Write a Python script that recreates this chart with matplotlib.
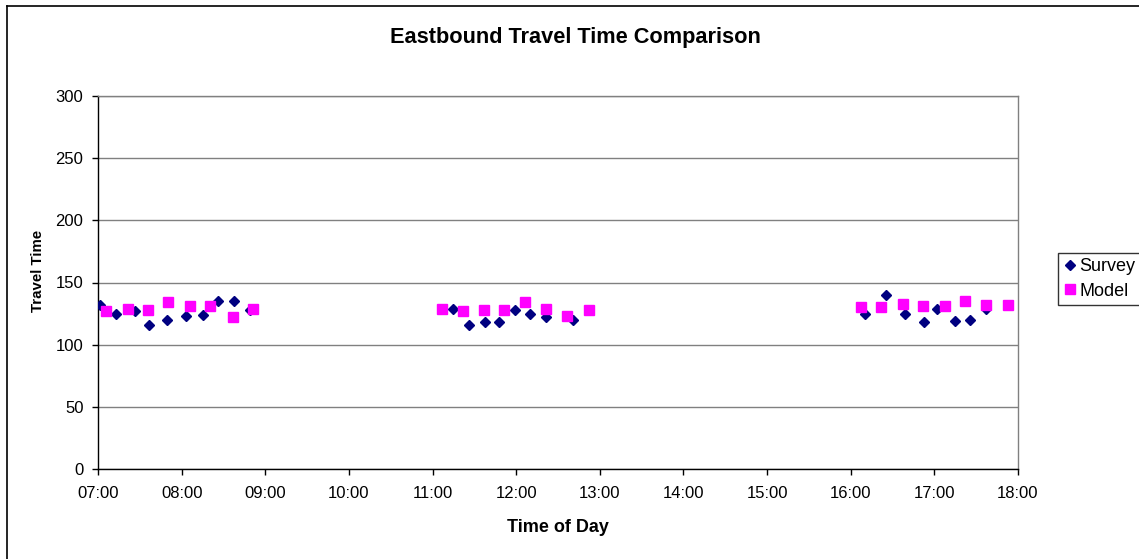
"""Eastbound travel time comparison: survey vs model by time of day."""

import matplotlib

matplotlib.use("Agg")

import matplotlib.pyplot as plt
from matplotlib.lines import Line2D
from matplotlib.ticker import FuncFormatter, MultipleLocator

plt.rcParams["font.family"] = ["Liberation Sans", "DejaVu Sans"]

# decimal hours of day, travel time values
survey_hours = [
    7.02, 7.22, 7.44, 7.61, 7.83, 8.05, 8.25, 8.43, 8.63, 8.82,
    11.25, 11.44, 11.63, 11.79, 11.98, 12.17, 12.36, 12.68,
    16.17, 16.42, 16.65, 16.88, 17.03, 17.25, 17.43, 17.62,
]
survey_times = [
    132, 125, 127, 116, 120, 123, 124, 135, 135, 128,
    129, 116, 118, 118, 128, 125, 122, 120,
    125, 140, 125, 118, 129, 119, 120, 129,
]

model_hours = [
    7.09, 7.36, 7.60, 7.84, 8.10, 8.34, 8.61, 8.85,
    11.11, 11.36, 11.61, 11.86, 12.11, 12.36, 12.61, 12.87,
    16.12, 16.36, 16.62, 16.87, 17.13, 17.37, 17.62, 17.88,
]
model_times = [
    127, 129, 128, 134, 131, 131, 122, 129,
    129, 127, 128, 128, 134, 129, 123, 128,
    130, 130, 133, 131, 131, 135, 132, 132,
]

W, H = 1139, 559


def _hhmm(x, _pos):
    h = int(round(x * 60)) // 60
    m = int(round(x * 60)) % 60
    return f"{h:02d}:{m:02d}"


def main():
    fig = plt.figure(figsize=(W / 100, H / 100), dpi=100)
    ax = fig.add_axes([98 / W, 1 - 469 / H, 920 / W, 373 / H])

    ax.plot(survey_hours, survey_times, linestyle="none", marker="D",
            markersize=5.3, color="#000080", label="Survey", zorder=3)
    ax.plot(model_hours, model_times, linestyle="none", marker="s",
            markersize=7, color="#ff00ff", label="Model", zorder=3)

    ax.set_xlim(7, 18)
    ax.set_ylim(0, 300)
    ax.xaxis.set_major_locator(MultipleLocator(1))
    ax.xaxis.set_major_formatter(FuncFormatter(_hhmm))
    ax.yaxis.set_major_locator(MultipleLocator(50))
    ax.grid(axis="y", color="#808080", linewidth=1)
    ax.set_axisbelow(True)

    for side in ("top", "right"):
        ax.spines[side].set_color("#808080")
    for side in ("left", "bottom"):
        ax.spines[side].set_color("black")
    for sp in ax.spines.values():
        sp.set_linewidth(1)

    ax.tick_params(axis="x", direction="out", length=4, width=1, pad=8,
                   labelsize=12)
    ax.tick_params(axis="y", direction="out", length=4.5, width=1, pad=6,
                   labelsize=12)

    ax.set_xlabel("Time of Day", fontsize=13, fontweight="bold")
    ax.xaxis.set_label_coords(0.5, (469 - 519) / 373)
    ax.set_ylabel("Travel Time", fontsize=10.8, fontweight="bold")
    ax.yaxis.set_label_coords((45 - 98) / 920, (469 - 271) / 373)

    fig.text(575 / W, 1 - 38 / H, "Eastbound Travel Time Comparison",
             ha="center", va="center", fontsize=15.7, fontweight="bold")

    leg = ax.legend(loc="upper left", bbox_to_anchor=(1058 / W, 1 - 253 / H),
                    bbox_transform=fig.transFigure, fontsize=13,
                    frameon=True, fancybox=False, edgecolor="black",
                    handlelength=0.7, handletextpad=0.2, borderpad=0.3,
                    labelspacing=0.4, borderaxespad=0)
    leg.get_frame().set_linewidth(1)

    # outer chart border (only left and top edges fall inside the image)
    fig.add_artist(Line2D([7 / W, 7 / W], [0, 1 - 6 / H], color="black",
                          linewidth=1.2, transform=fig.transFigure))
    fig.add_artist(Line2D([7 / W, 1], [1 - 6 / H, 1 - 6 / H], color="black",
                          linewidth=1.2, transform=fig.transFigure))

    fig.savefig("out.png", dpi=100)
    plt.close(fig)


if __name__ == "__main__":
    main()
